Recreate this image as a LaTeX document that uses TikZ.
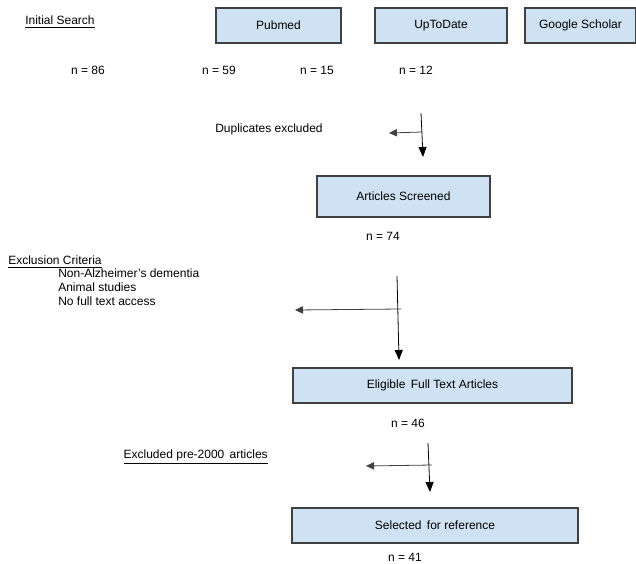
\documentclass[tikz,border=0pt]{standalone}
\usepackage{fontspec}
\setmainfont{Liberation Sans}
\usetikzlibrary{arrows.meta, positioning}
\definecolor{boxfill}{RGB}{207,226,243}
\definecolor{boxline}{RGB}{64,64,64}

\begin{document}
\begin{tikzpicture}[
    x=0.75pt, y=-0.75pt,
    font=\fontsize{9}{10.5}\selectfont,
    block/.style={rectangle, draw=boxline, fill=boxfill, line width=0.8pt, minimum height=26.25pt, inner sep=0pt, align=center},
    label/.style={inner sep=0pt},
    arrow/.style={-{Triangle[length=7.5pt, width=6pt]}, line width=0.6pt, black},
    sidearrow/.style={-{Triangle[length=6pt, width=5.5pt]}, line width=0.6pt, black!75}]
    \useasboundingbox (0,0) rectangle (636,564);

    % Initial search (top row)
    \node[label, anchor=west] (search) at (25,22) {\underline{Initial Search}};
    \node[block, minimum width=93.75pt] (pubmed) at (278.5,25.5) {Pubmed};
    \node[block, minimum width=99pt] (uptodate) at (441,25.5) {UpToDate};
    \node[block, minimum width=83.25pt] (scholar) at (580.5,25.5) {Google Scholar};
    \node[label] (n86) at (88,70) {n = 86};
    \node[label] (n59) at (219,70) {n = 59};
    \node[label] (n15) at (317,70) {n = 15};
    \node[label] (n12) at (416,70) {n = 12};

    % Duplicates
    \node[label] (dupl) at (269,129) {Duplicates excluded};
    \coordinate (duptop) at (421,113);
    \coordinate (dupend) at (423,157);
    \coordinate (dupmid) at (422,132);
    \coordinate (dupleft) at (389,133);
    \draw[arrow] (duptop) -- (dupend);
    \draw[sidearrow] (dupmid) -- (dupleft);

    \node[block, minimum width=129.75pt, minimum height=30.75pt] (screened) at (403.5,196.5) {Articles Screened};
    \node[label] (n74) at (383,236) {n = 74};

    % Exclusion criteria
    \node[label, anchor=west] (crit) at (8,262) {\underline{Exclusion Criteria}};
    \node[label, anchor=north west, align=left, font=\fontsize{9}{10.3}\selectfont] (critlist) at (58,269)
        {Non-Alzheimer's dementia\\Animal studies\\No full text access};
    \coordinate (crittop) at (397,276);
    \coordinate (critend) at (399,360);
    \coordinate (critmid) at (401,309);
    \coordinate (critleft) at (295,310);
    \draw[arrow] (crittop) -- (critend);
    \draw[sidearrow] (critmid) -- (critleft);

    \node[block, minimum width=209.25pt] (eligible) at (432.5,385.5) {Eligible\, Full Text Articles};
    \node[label] (n46) at (408,423) {n = 46};

    % Pre-2000 exclusion
    \node[label, anchor=east] (pre2000) at (268,457) {\underline{Excluded pre-2000\, articles}};
    \coordinate (pretop) at (428,443);
    \coordinate (preend) at (430,492);
    \coordinate (premid) at (432,465);
    \coordinate (preleft) at (366,466);
    \draw[arrow] (pretop) -- (preend);
    \draw[sidearrow] (premid) -- (preleft);

    \node[block, minimum width=214.5pt] (selected) at (435,525.5) {Selected\, for reference};
    \node[label] (n41) at (405,557) {n = 41};
\end{tikzpicture}
\end{document}
